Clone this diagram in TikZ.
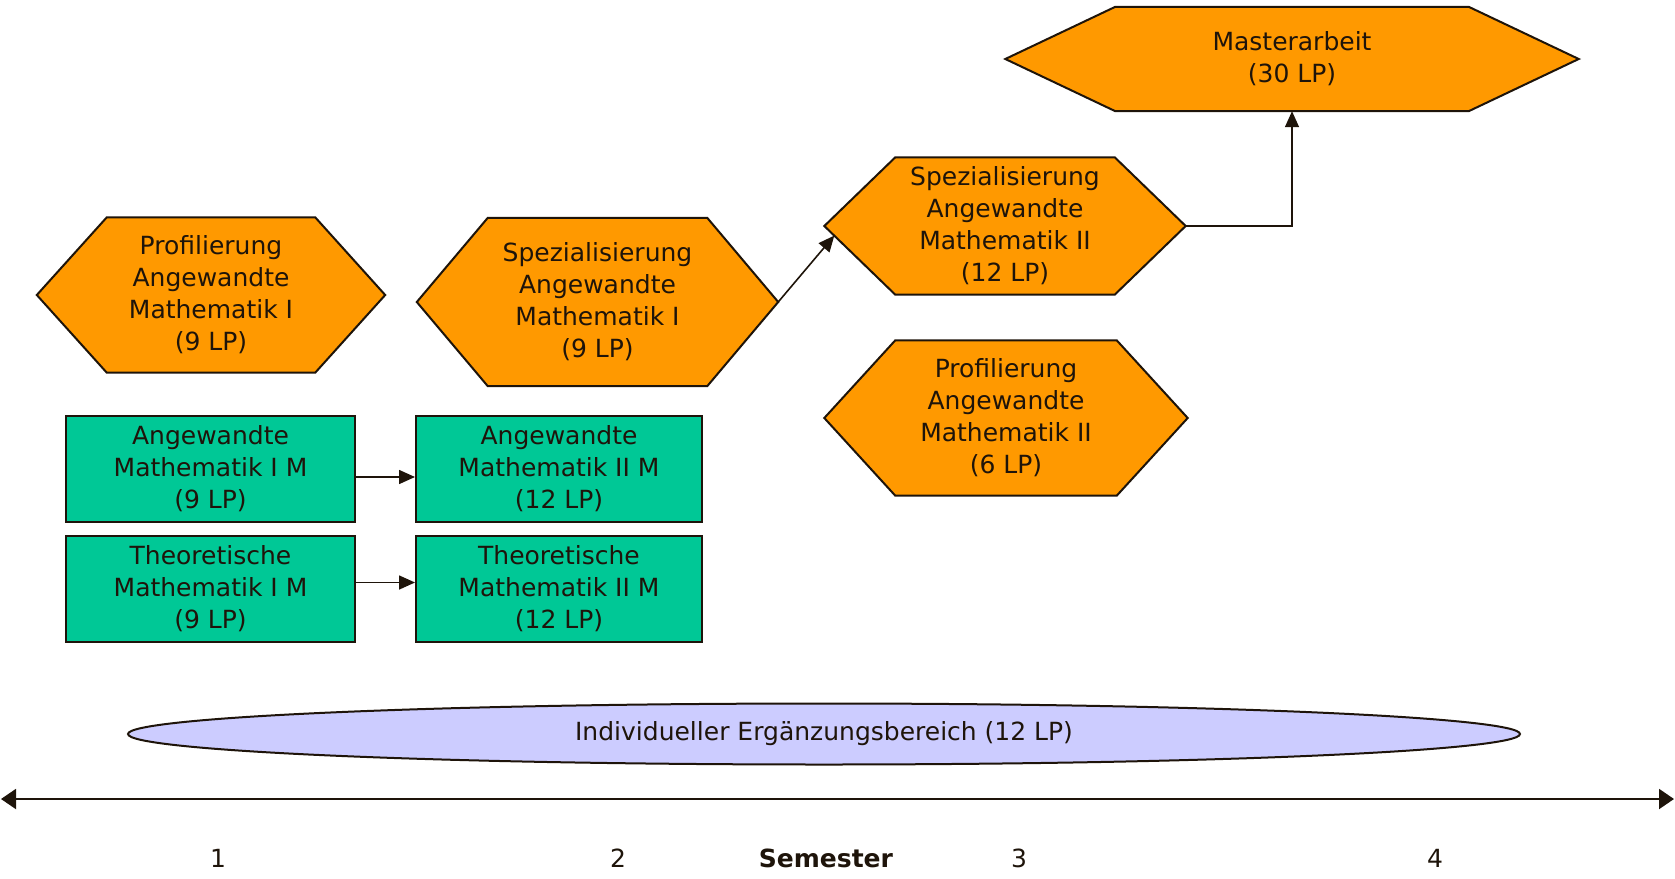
\documentclass[tikz,border=0pt]{standalone}
\usepackage{fontspec}
\setmainfont{DejaVu Sans}
\usetikzlibrary{arrows.meta,shapes.geometric,backgrounds}
\definecolor{hexorange}{RGB}{255,153,0}
\definecolor{modgreen}{RGB}{0,200,150}
\definecolor{lav}{RGB}{204,204,255}
\definecolor{ink}{RGB}{30,20,10}
\newcommand{\hexoutline}[2]{%
  \path[hexfill] (#1.west) -- ([xshift=#2pt]#1.north west) -- ([xshift=-#2pt]#1.north east)
    -- (#1.east) -- ([xshift=-#2pt]#1.south east) -- ([xshift=#2pt]#1.south west) -- cycle;}
\tikzset{
  txt/.style={font=\fontsize{25}{32}\selectfont, text=ink, align=center, inner sep=0pt},
  hexnode/.style={txt, rectangle, draw=none},
  hexfill/.style={fill=hexorange, draw=ink, line width=2pt, line join=miter},
  greenbox/.style={txt, rectangle, fill=modgreen, draw=ink, line width=2pt, minimum height=106pt},
  iebox/.style={txt, ellipse, fill=lav, draw=ink, line width=2pt, minimum width=1392pt, minimum height=61pt},
  conn/.style={draw=ink, line width=1.6pt, -{Triangle[length=16pt,width=14pt]}},
  axisline/.style={draw=ink, line width=2pt, {Triangle[length=15pt,width=20pt]}-{Triangle[length=15pt,width=20pt]}},
  lbl/.style={font=\fontsize{25}{30}\selectfont, text=ink, inner sep=0pt},
}
\begin{document}
\begin{tikzpicture}[x=1pt,y=-1pt]
\useasboundingbox (0,0) rectangle (1675,878);
% hexagon nodes
\node[hexnode, minimum width=348pt, minimum height=155pt] (p1) at (211,295) {Profilierung\\Angewandte\\Mathematik I\\(9 LP)};
\node[hexnode, minimum width=361pt, minimum height=168pt] (s1) at (597.5,302) {Spezialisierung\\Angewandte\\Mathematik I\\(9 LP)};
\node[hexnode, minimum width=361pt, minimum height=137pt] (s2) at (1005,226) {Spezialisierung\\Angewandte\\Mathematik II\\(12 LP)};
\node[hexnode, minimum width=363pt, minimum height=155pt] (p2) at (1006,418) {Profilierung\\Angewandte\\Mathematik II\\(6 LP)};
\node[hexnode, minimum width=573pt, minimum height=104pt] (ma) at (1292,59) {Masterarbeit\\(30 LP)};
\begin{scope}[on background layer]
\hexoutline{p1}{70}
\hexoutline{s1}{71}
\hexoutline{s2}{71}
\hexoutline{p2}{71}
\hexoutline{ma}{110}
\end{scope}
% green boxes
\node[greenbox, minimum width=289pt] (a1) at (210.5,469) {Angewandte\\Mathematik I M\\(9 LP)};
\node[greenbox, minimum width=286pt] (a2) at (559,469) {Angewandte\\Mathematik II M\\(12 LP)};
\node[greenbox, minimum width=289pt] (t1) at (210.5,588.5) {Theoretische\\Mathematik I M\\(9 LP)};
\node[greenbox, minimum width=286pt] (t2) at (559,588.5) {Theoretische\\Mathematik II M\\(12 LP)};
% ellipse
\node[iebox] (ieb) at (824,734) {Individueller Ergänzungsbereich (12 LP)};
% connectors
\draw[conn] ([yshift=-8pt]a1.east) -- ([yshift=-8pt]a2.west);
\draw[conn] ([yshift=6pt]t1.east) -- ([yshift=6pt]t2.west);
\draw[conn] (s1.east) -- ([shift={(10pt,-9.6pt)}]s2.west);
\draw[conn] (s2.east) -| (ma.south);
% axis
\coordinate (axl) at (1,799);
\coordinate (axr) at (1674,799);
\draw[axisline] (axl) -- (axr);
\node[lbl] (n1) at (218,858) {1};
\node[lbl] (n2) at (618,858) {2};
\node[lbl, font=\fontsize{25}{30}\selectfont\bfseries] (sem) at (826,858) {Semester};
\node[lbl] (n3) at (1019,858) {3};
\node[lbl] (n4) at (1435,858) {4};
\end{tikzpicture}
\end{document}
